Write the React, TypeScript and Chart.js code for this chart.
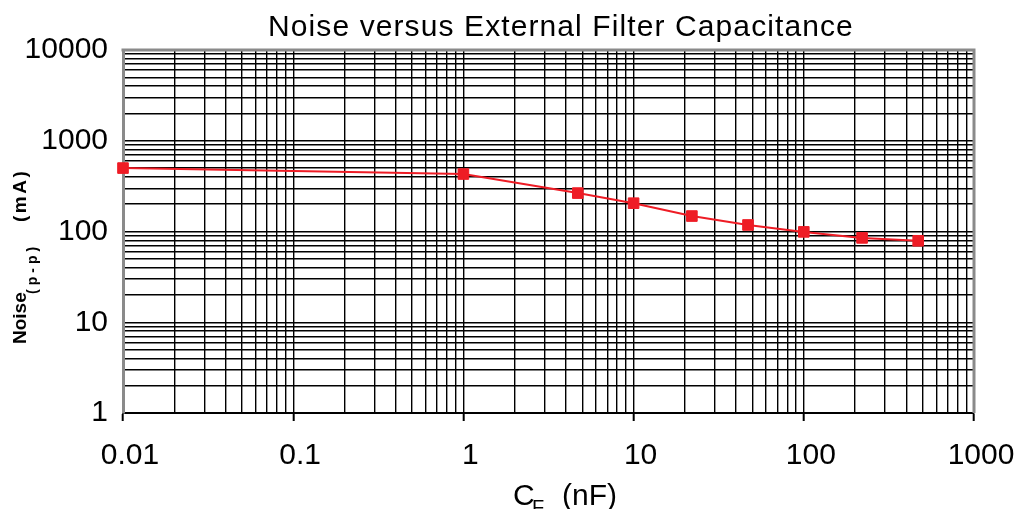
import React, { useEffect, useRef } from 'react';
import { Chart, registerables } from 'chart.js';

Chart.register(...registerables);

const chartTitle = 'Noise versus External Filter Capacitance';
const xTitleMain = 'C';
const xTitleSub = 'F';
const xTitleUnit = '(nF)';
const yTitleMain = 'Noise';
const yTitleSub = '(p-p)';
const yTitleUnit = '(mA)';

const capacitanceNF = [0.01, 1, 4.7, 10, 22, 47, 100, 220, 470];
const noisePPmA = [500, 430, 265, 205, 148, 118, 99, 85, 79];
const xTickLabels = ['0.01', '0.1', '1', '10', '100', '1000'];
const yTickLabels = ['1', '10', '100', '1000', '10000'];
const minorMultipliers = [1, 2, 3, 4, 5, 6, 7, 8, 9];

const FONT = '"Liberation Sans", Arial, sans-serif';
const RED = '#EE1C25';

function gridTicks(labels: string[]) {
  const decades = labels.map(Number);
  const last = decades[decades.length - 1];
  const out: { value: number }[] = [];
  decades.forEach((d) => {
    minorMultipliers.forEach((m) => {
      const v = parseFloat((m * d).toPrecision(6));
      if (v <= last * 1.000001) out.push({ value: v });
    });
  });
  return out;
}

function labelFor(labels: string[], value: number): string {
  if (!(value > 0)) return '';
  const hit = labels.find((l) => Math.abs(Math.log10(Number(l)) - Math.log10(value)) < 1e-6);
  return hit ?? '';
}

const framePlugin = {
  id: 'frameAndTitles',
  beforeDatasetsDraw(chart: any) {
    const { ctx, chartArea: a } = chart;
    ctx.save();
    ctx.strokeStyle = '#8a8a8a';
    ctx.lineWidth = 3;
    ctx.beginPath();
    ctx.moveTo(a.left - 1.5, a.top);
    ctx.lineTo(a.right, a.top);
    ctx.lineTo(a.right, a.bottom);
    ctx.stroke();
    ctx.restore();
  },
  afterDraw(chart: any) {
    const ctx = chart.ctx as CanvasRenderingContext2D;
    ctx.save();
    ctx.fillStyle = '#000';
    ctx.textBaseline = 'alphabetic';
    ctx.textAlign = 'left';
    // chart title
    ctx.font = `30px ${FONT}`;
    (ctx as any).letterSpacing = '1.1px';
    ctx.fillText(chartTitle, 268, 36);
    (ctx as any).letterSpacing = '0px';
    // x axis title
    ctx.font = `30px ${FONT}`;
    ctx.fillText(xTitleMain, 513, 505);
    ctx.font = `20px ${FONT}`;
    ctx.fillText(xTitleSub, 532, 514);
    ctx.font = `30px ${FONT}`;
    ctx.fillText(xTitleUnit, 562, 505);
    // y axis title
    ctx.translate(26, 344);
    ctx.rotate(-Math.PI / 2);
    ctx.font = `bold 19px ${FONT}`;
    ctx.fillText(yTitleMain, 0, 0);
    ctx.font = `bold 14px ${FONT}`;
    (ctx as any).letterSpacing = '4px';
    ctx.fillText(yTitleSub, 50, 11);
    ctx.font = `bold 19px ${FONT}`;
    (ctx as any).letterSpacing = '2.5px';
    ctx.fillText(yTitleUnit, 122, 0);
    (ctx as any).letterSpacing = '0px';
    ctx.restore();
  },
};

export default function App() {
  const ref = useRef<HTMLCanvasElement>(null);
  useEffect(() => {
    const chart = new Chart(ref.current as HTMLCanvasElement, {
      type: 'line',
      data: {
        datasets: [
          {
            data: capacitanceNF.map((x, i) => ({ x, y: noisePPmA[i] })),
            borderColor: RED,
            backgroundColor: RED,
            borderWidth: 2,
            pointStyle: 'rect',
            pointRadius: 7.5,
            pointBorderWidth: 1,
            pointBorderColor: RED,
            pointBackgroundColor: RED,
            tension: 0,
            clip: false as any,
          },
        ],
      },
      options: {
        responsive: false,
        animation: false,
        devicePixelRatio: 1,
        events: [],
        layout: { padding: { top: 50, right: 47, left: 0, bottom: 0 } },
        plugins: {
          legend: { display: false },
          title: { display: false },
          tooltip: { enabled: false },
        },
        scales: {
          x: {
            type: 'logarithmic',
            position: 'bottom',
            min: 0.01,
            max: 1000,
            afterBuildTicks: (s: any) => {
              s.ticks = gridTicks(xTickLabels);
            },
            afterFit: (s: any) => {
              s.height = 96;
              s.paddingLeft = 0;
              s.paddingRight = 0;
            },
            grid: {
              color: '#000',
              lineWidth: 1.4,
              drawTicks: true,
              tickLength: 8,
              tickWidth: 2,
              tickColor: (c: any) =>
                c.tick && labelFor(xTickLabels, c.tick.value) ? '#000' : 'rgba(0,0,0,0)',
            },
            border: { color: '#000', width: 2 },
            ticks: {
              autoSkip: false,
              maxRotation: 0,
              minRotation: 0,
              padding: 17,
              labelOffset: 7,
              color: '#000',
              font: { family: FONT, size: 30 },
              callback: (v: any) => labelFor(xTickLabels, Number(v)),
            },
          },
          y: {
            type: 'logarithmic',
            position: 'left',
            min: 1,
            max: 10000,
            afterBuildTicks: (s: any) => {
              s.ticks = gridTicks(yTickLabels);
            },
            afterFit: (s: any) => {
              s.width = 123;
              s.paddingTop = 0;
              s.paddingBottom = 0;
            },
            grid: {
              color: '#000',
              lineWidth: 1.4,
              drawTicks: false,
            },
            border: { color: '#8a8a8a', width: 3 },
            ticks: {
              autoSkip: false,
              padding: 15,
              color: '#000',
              font: { family: FONT, size: 30 },
              callback: (v: any) => labelFor(yTickLabels, Number(v)),
            },
          },
        },
      },
      plugins: [framePlugin],
    });
    return () => chart.destroy();
  }, []);
  return (
    <div style={{ position: 'fixed', left: 0, top: 0, width: 1021, height: 509, background: '#fff' }}>
      <canvas ref={ref} width={1021} height={509} style={{ display: 'block' }} />
    </div>
  );
}
